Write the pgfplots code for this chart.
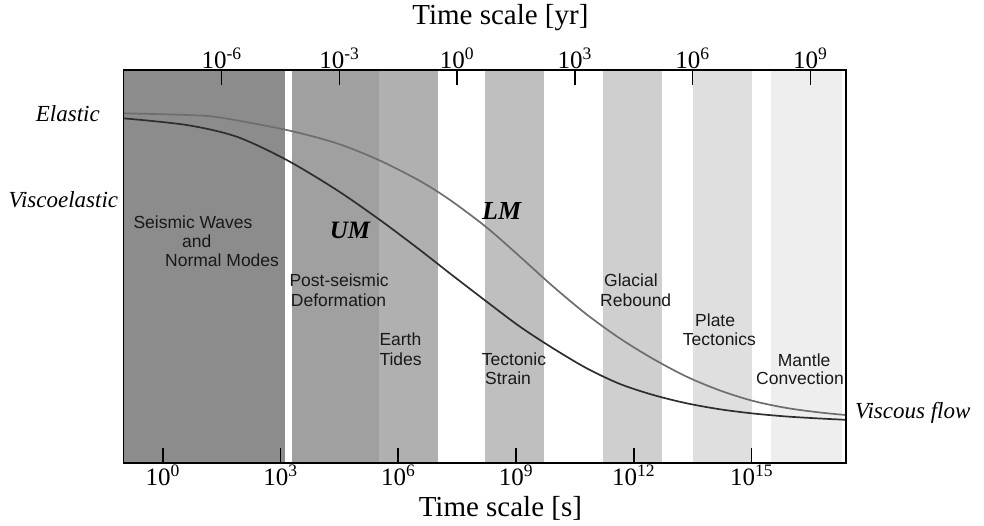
\documentclass[border=0pt]{standalone}
\usepackage{fontspec}
\setmainfont{Liberation Serif}
\newfontfamily\helv{Liberation Sans}
\usepackage{pgfplots}
\pgfplotsset{compat=1.18}
\definecolor{bA}{HTML}{8C8C8C}
\definecolor{bB}{HTML}{A0A0A0}
\definecolor{bC}{HTML}{B0B0B0}
\definecolor{bD}{HTML}{BFBFBF}
\definecolor{bE}{HTML}{CFCFCF}
\definecolor{bF}{HTML}{DFDFDF}
\definecolor{bG}{HTML}{EEEEEE}
\definecolor{umc}{HTML}{2E2E2E}
\definecolor{lmc}{HTML}{6E6E6E}
\newcommand\pp[2]{({#1pt-123.3pt},{462.7pt-#2pt})}
\begin{document}
\begin{tikzpicture}
\useasboundingbox (-123.3pt,-62.3pt) rectangle (860.7pt,462.7pt);
\begin{axis}[
  at={(0,0)}, anchor=south west, scale only axis,
  width=722.4pt, height=392.7pt,
  xmin=-1.004, xmax=17.40, ymin=70, ymax=462.7, y dir=reverse,
  axis on top,
  ytick=\empty,
  xtick={0,3,6,9,12,15},
  xticklabels={10\textsuperscript{0},10\textsuperscript{3},10\textsuperscript{6},10\textsuperscript{9},10\textsuperscript{12},10\textsuperscript{15}},
  xtick pos=bottom,
  tick align=inside,
  major tick length=15pt,
  axis line style={line width=1.6pt},
  every tick/.style={black, line width=1.6pt},
  xticklabel style={font=\fontsize{25}{30}\selectfont, inner sep=2pt},
  xlabel={Time scale [s]},
  xlabel style={at={(axis description cs:0.522,-0.1154)}, anchor=center, font=\fontsize{29}{34}\selectfont},
]
\addplot[fill=bA, draw=none] coordinates {(-1.004,70) (-1.004,462.7) (3.116,462.7) (3.116,70)} -- cycle;
\addplot[fill=bB, draw=none] coordinates {(3.302,70) (3.302,462.7) (5.503,462.7) (5.503,70)} -- cycle;
\addplot[fill=bC, draw=none] coordinates {(5.503,70) (5.503,462.7) (7.014,462.7) (7.014,70)} -- cycle;
\addplot[fill=bD, draw=none] coordinates {(8.211,70) (8.211,462.7) (9.707,462.7) (9.707,70)} -- cycle;
\addplot[fill=bE, draw=none] coordinates {(11.218,70) (11.218,462.7) (12.721,462.7) (12.721,70)} -- cycle;
\addplot[fill=bF, draw=none] coordinates {(13.511,70) (13.511,462.7) (15.014,462.7) (15.014,70)} -- cycle;
\addplot[fill=bG, draw=none] coordinates {(15.498,70) (15.498,462.7) (17.314,462.7) (17.314,70)} -- cycle;
% LM (lower mantle)
\addplot[lmc, line width=1.7pt, smooth, tension=0.5] coordinates {
(-1.004,113.3) (0.611,115.0) (1.460,117.5) (3.159,130) (4.433,143.3) (5.503,160)
(6.555,181) (7.320,200) (8.255,227.5) (9.103,256.7) (9.952,286.7) (10.803,314.5)
(11.651,338.5) (12.499,359) (13.350,376.7) (14.199,390.5) (15.047,401) (15.898,408)
(16.746,412.5) (17.40,415)};
% UM (upper mantle)
\addplot[umc, line width=1.7pt, smooth, tension=0.5] coordinates {
(-1.004,118.3) (0.611,125) (1.885,136.7) (3.159,160) (4.433,190) (5.536,220)
(6.555,250) (7.320,273.5) (8.255,301.7) (9.103,326.7) (9.952,348.5) (10.803,368.3)
(11.651,384) (12.499,395) (13.350,403.3) (14.199,409.3) (15.047,413.5) (15.898,416.5)
(16.746,418.5) (17.40,419.8)};
\end{axis}
\begin{axis}[
  at={(0,0)}, anchor=south west, scale only axis,
  width=722.4pt, height=392.7pt,
  xmin=-8.503, xmax=9.901, ymin=0, ymax=1,
  hide y axis,
  axis x line*=top,
  xtick={-6,-3,0,3,6,9},
  xticklabels={10\textsuperscript{-6},10\textsuperscript{-3},10\textsuperscript{0},10\textsuperscript{3},10\textsuperscript{6},10\textsuperscript{9}},
  tick align=inside,
  major tick length=15pt,
  axis line style={line width=1.6pt},
  every tick/.style={black, line width=1.6pt},
  xticklabel style={font=\fontsize{25}{30}\selectfont, inner sep=1pt},
  xlabel={Time scale [yr]},
  xlabel style={at={(axis description cs:0.522,1.1324)}, anchor=center, font=\fontsize{29}{34}\selectfont},
]
\end{axis}
\begin{scope}[every node/.style={inner sep=0pt, font=\fontsize{23}{28}\selectfont\itshape, text height=16pt, text depth=0pt}]
\node[anchor=east] at \pp{100}{113.3} {Elastic};
\node[anchor=east] at \pp{118.3}{200} {Viscoelastic};
\node[anchor=west] at \pp{855}{410} {Viscous flow};
\end{scope}
\node[inner sep=0pt, font=\fontsize{25}{30}\selectfont\bfseries\itshape] at \pp{350}{230} {UM};
\node[inner sep=0pt, font=\fontsize{26}{31}\selectfont\bfseries\itshape] at \pp{501.7}{211} {LM};
\begin{scope}[every node/.style={inner sep=0pt, font=\helv\fontsize{17.5}{21}\selectfont, text height=12.5pt, text depth=0pt, text=black!90}]
\node[anchor=west] at \pp{133.3}{222.7} {Seismic Waves};
\node[anchor=center] at \pp{196.7}{241.7} {and};
\node[anchor=west] at \pp{165}{260.7} {Normal Modes};
\node[anchor=west] at \pp{289.3}{280.7} {Post-seismic};
\node[anchor=west] at \pp{290.7}{300} {Deformation};
\node[anchor=west] at \pp{379.3}{339.3} {Earth};
\node[anchor=west] at \pp{379.3}{359} {Tides};
\node[anchor=west] at \pp{481.7}{359.3} {Tectonic};
\node[anchor=west] at \pp{485}{378.3} {Strain};
\node[anchor=west] at \pp{604}{280.7} {Glacial};
\node[anchor=west] at \pp{600}{300} {Rebound};
\node[anchor=west] at \pp{695}{320} {Plate};
\node[anchor=west] at \pp{682.7}{339.3} {Tectonics};
\node[anchor=west] at \pp{777.7}{360} {Mantle};
\node[anchor=west] at \pp{756}{378.3} {Convection};
\end{scope}
\end{tikzpicture}
\end{document}
